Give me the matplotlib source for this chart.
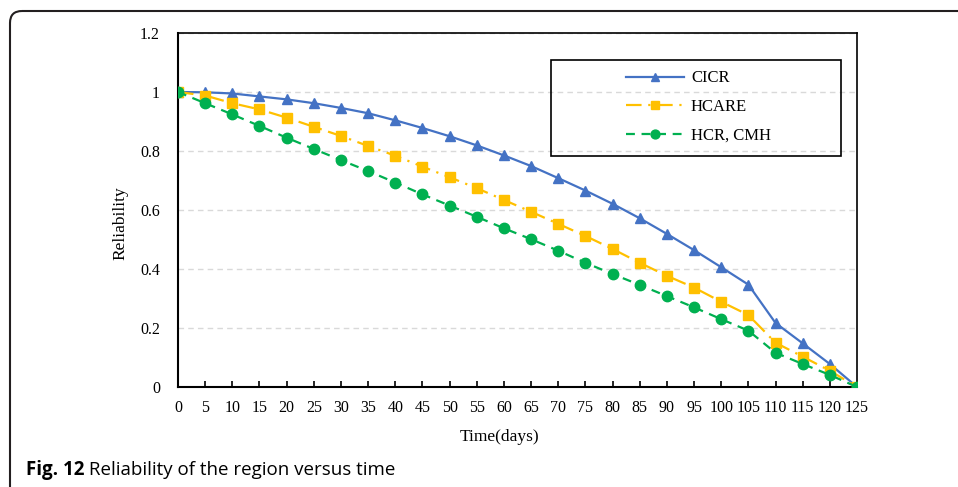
import matplotlib
matplotlib.use('Agg')
import matplotlib.pyplot as plt
from matplotlib.patches import FancyBboxPatch, Rectangle
from matplotlib.transforms import Affine2D

# 数据
days = [0, 5, 10, 15, 20, 25, 30, 35, 40, 45, 50, 55, 60, 65, 70, 75, 80, 85, 90, 95, 100, 105, 110, 115, 120, 125]
cicr = [1.0, 0.999, 0.995, 0.985, 0.975, 0.962, 0.946, 0.928, 0.904, 0.878, 0.850, 0.819, 0.785,
        0.749, 0.708, 0.666, 0.621, 0.572, 0.519, 0.464, 0.406, 0.347, 0.217, 0.148, 0.078, 0.0]
hcare = [1.0, 0.988, 0.962, 0.941, 0.913, 0.882, 0.851, 0.817, 0.784, 0.747, 0.711, 0.674, 0.634,
         0.594, 0.553, 0.512, 0.468, 0.421, 0.377, 0.337, 0.289, 0.244, 0.150, 0.103, 0.055, 0.0]
hcr_cmh = [1.0, 0.962, 0.924, 0.885, 0.845, 0.807, 0.769, 0.732, 0.693, 0.653, 0.615, 0.577, 0.538,
           0.501, 0.462, 0.421, 0.383, 0.346, 0.308, 0.270, 0.230, 0.191, 0.116, 0.078, 0.041, 0.0]
labels = ['CICR', 'HCARE', 'HCR, CMH']
y_ticks = [0, 0.2, 0.4, 0.6, 0.8, 1, 1.2]
y_tick_labels = ['0', '0.2', '0.4', '0.6', '0.8', '1', '1.2']

W, H = 958, 487
serif = 'Liberation Serif'

fig = plt.figure(figsize=(W / 100, H / 100), dpi=100)
# 像素坐标 (左上角为原点)
px = Affine2D().scale(1 / W, -1 / H).translate(0, 1) + fig.transFigure

# 外框
frame = FancyBboxPatch((10, 11), 980, 520, boxstyle='round,pad=0,rounding_size=12',
                       transform=px, fill=False, edgecolor='#231f20', linewidth=1.5, clip_on=False)
fig.patches.append(frame)

ax = fig.add_axes([178 / W, 1 - 387 / H, (857 - 178) / W, (387 - 33) / H])
ax.plot(days, cicr, color='#4472C4', linestyle='-', linewidth=1.6, marker='^', markersize=7.5,
        label=labels[0], zorder=3)
ax.plot(days, hcare, color='#FFC000', linestyle=(0, (7, 3, 1, 3)), linewidth=1.6, marker='s',
        markersize=7.5, label=labels[1], zorder=4)
ax.plot(days, hcr_cmh, color='#00B050', linestyle=(0, (4, 3)), linewidth=1.6, marker='o',
        markersize=7.5, label=labels[2], zorder=5)

ax.set_xlim(0, 125)
ax.set_ylim(0, 1.2)
ax.set_xticks(days)
ax.set_xticklabels([str(d) for d in days], fontfamily=serif, fontsize=11.5)
ax.set_yticks(y_ticks)
ax.set_yticklabels(y_tick_labels, fontfamily=serif, fontsize=11.5)
ax.tick_params(axis='x', direction='in', length=4, width=1.2, pad=9)
ax.tick_params(axis='y', length=0, pad=13)
ax.grid(axis='y', color='#D9D9D9', linestyle=(0, (4, 3)), linewidth=1)
for s in ax.spines.values():
    s.set_linewidth(1.5)
    s.set_color('black')
ax.spines['top'].set_linewidth(1.2)
ax.spines['right'].set_linewidth(1.2)

fig.text(120, 223, 'Reliability', transform=px, rotation=90, ha='center', va='center',
         fontfamily=serif, fontsize=12.5)
fig.text(500, 437, 'Time(days)', transform=px, ha='center', va='center',
         fontfamily=serif, fontsize=12.5)

# 图例
leg = fig.legend(loc='center left', bbox_to_anchor=(626 / W, 1 - 107 / H), frameon=False,
                 prop={'family': serif, 'size': 12}, handlelength=3.5, handletextpad=0.4,
                 borderpad=0, borderaxespad=0, labelspacing=0.75, markerscale=0.85)
fig.patches.append(Rectangle((551, 60), 290, 96, transform=px, fill=False,
                             edgecolor='black', linewidth=1.2))

# 图注
t1 = fig.text(26, 470, 'Fig. 12', transform=px, ha='left', va='center',
              fontfamily='Open Sans', fontweight='bold', fontsize=13.5)
t2 = fig.text(0, 0, ' Reliability of the region versus time', ha='left', va='center',
              fontfamily='Open Sans', fontsize=13.5)
fig.canvas.draw()
bb = t1.get_window_extent()
t2.set_position((bb.x1 / W, (bb.y0 + bb.y1) / 2 / H))

fig.savefig('out.png', dpi=100)
